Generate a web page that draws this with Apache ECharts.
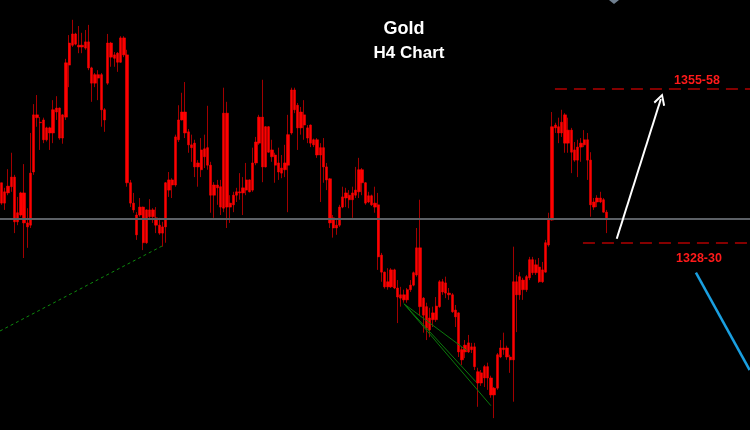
<!DOCTYPE html>
<html>
<head>
<meta charset="utf-8">
<script src="https://cdn.jsdelivr.net/npm/echarts@6/dist/echarts.min.js"></script>
<style>
  html, body { margin: 0; background: #000; }
  #chart { width: 750px; height: 430px; }
</style>
</head>
<body>
<div id="chart"></div>
<script>
// H4 gold bars as [open, close, low, high]
const candles = [
  [1339.7, 1336.1, 1335.8, 1339.7], [1336.1, 1338.1, 1334.9, 1338.8], [1337.9, 1339.1, 1337.5, 1342.1],
  [1339.0, 1340.7, 1338.1, 1345.0], [1340.7, 1332.8, 1330.8, 1341.1], [1332.8, 1334.4, 1332.2, 1337.2],
  [1334.0, 1337.9, 1333.7, 1338.1], [1337.9, 1332.6, 1326.4, 1343.0], [1332.6, 1331.9, 1328.2, 1335.2],
  [1332.2, 1341.4, 1331.7, 1348.5], [1341.6, 1351.7, 1341.1, 1353.6], [1351.7, 1351.2, 1349.6, 1355.2],
  [1350.4, 1350.3, 1345.5, 1351.3], [1350.8, 1347.3, 1346.7, 1351.2], [1347.3, 1349.4, 1347.0, 1349.6],
  [1349.4, 1348.5, 1345.5, 1349.6], [1348.5, 1352.6, 1346.7, 1354.3], [1352.2, 1352.9, 1350.8, 1355.0],
  [1352.9, 1347.6, 1347.3, 1353.0], [1347.6, 1351.7, 1346.6, 1351.8], [1351.3, 1360.9, 1350.8, 1361.6],
  [1360.5, 1364.4, 1356.6, 1365.8], [1364.0, 1366.0, 1363.7, 1368.5], [1366.0, 1364.2, 1364.0, 1366.2],
  [1364.0, 1363.7, 1362.6, 1367.4], [1363.7, 1364.0, 1362.6, 1366.2], [1363.5, 1364.6, 1363.2, 1366.7],
  [1364.6, 1360.0, 1359.6, 1367.6], [1360.0, 1357.3, 1354.0, 1360.2], [1357.3, 1358.8, 1356.6, 1359.1],
  [1358.8, 1358.2, 1354.3, 1359.6], [1358.8, 1352.6, 1349.6, 1359.1], [1352.6, 1350.8, 1348.7, 1352.9],
  [1357.3, 1364.4, 1357.0, 1366.0], [1364.4, 1361.9, 1360.2, 1364.6], [1362.3, 1361.7, 1360.2, 1362.8],
  [1362.6, 1361.0, 1359.3, 1362.8], [1361.0, 1365.3, 1360.9, 1365.6], [1365.3, 1362.3, 1361.9, 1365.6],
  [1362.3, 1339.7, 1339.0, 1363.2], [1339.7, 1336.1, 1335.4, 1340.2], [1336.1, 1334.9, 1334.4, 1337.9],
  [1334.0, 1330.5, 1329.6, 1334.5], [1334.0, 1335.4, 1333.7, 1337.0], [1335.4, 1329.1, 1327.8, 1335.5],
  [1329.1, 1334.9, 1328.9, 1335.0], [1334.9, 1333.7, 1333.1, 1336.8], [1333.7, 1334.9, 1332.6, 1335.2],
  [1333.5, 1332.2, 1330.8, 1335.4], [1332.2, 1330.8, 1330.5, 1333.5], [1330.8, 1331.9, 1328.4, 1332.8],
  [1331.9, 1339.7, 1329.1, 1339.8], [1338.4, 1340.2, 1337.2, 1341.6], [1340.2, 1339.3, 1337.0, 1340.5],
  [1339.3, 1347.8, 1339.0, 1348.2], [1347.3, 1350.8, 1346.9, 1353.4], [1350.8, 1352.2, 1350.7, 1355.6],
  [1352.2, 1348.5, 1347.6, 1357.5], [1348.7, 1346.4, 1345.0, 1349.2], [1346.4, 1345.9, 1343.4, 1348.2],
  [1346.7, 1342.5, 1340.7, 1347.3], [1342.5, 1343.2, 1339.0, 1343.7], [1342.0, 1345.5, 1340.7, 1347.6],
  [1345.7, 1344.3, 1342.3, 1348.2], [1345.9, 1342.8, 1342.0, 1353.3], [1342.8, 1337.5, 1334.4, 1343.4],
  [1337.5, 1339.3, 1333.5, 1339.8], [1339.3, 1338.8, 1335.8, 1340.2], [1339.0, 1335.4, 1334.0, 1340.2],
  [1335.2, 1352.0, 1334.5, 1356.5], [1352.0, 1335.4, 1331.7, 1354.0], [1335.4, 1336.1, 1332.6, 1337.5],
  [1335.8, 1337.5, 1334.5, 1338.1], [1337.5, 1338.1, 1336.3, 1338.8], [1338.1, 1337.9, 1336.7, 1341.4],
  [1337.9, 1338.8, 1334.0, 1340.7], [1338.4, 1340.2, 1337.5, 1343.2], [1340.2, 1338.1, 1338.0, 1340.3],
  [1338.4, 1343.2, 1338.1, 1345.9], [1343.2, 1346.9, 1342.8, 1347.8], [1346.7, 1351.3, 1346.4, 1351.7],
  [1351.3, 1342.5, 1339.8, 1357.9], [1342.5, 1349.6, 1342.4, 1349.7], [1349.6, 1345.1, 1345.0, 1349.7],
  [1345.5, 1344.3, 1343.4, 1347.3], [1344.6, 1342.8, 1339.7, 1345.0], [1343.2, 1341.6, 1340.2, 1345.9],
  [1341.4, 1342.3, 1340.5, 1344.6], [1342.0, 1343.2, 1340.7, 1346.4], [1342.8, 1348.2, 1334.5, 1351.7],
  [1348.5, 1356.1, 1348.2, 1356.5], [1356.1, 1352.6, 1352.0, 1356.5], [1353.4, 1349.4, 1345.5, 1353.8],
  [1349.4, 1352.2, 1348.2, 1353.1], [1351.7, 1349.9, 1347.3, 1354.3], [1349.4, 1347.6, 1346.7, 1349.9],
  [1349.9, 1346.7, 1346.0, 1350.0], [1347.3, 1346.4, 1346.0, 1347.5], [1347.3, 1344.6, 1344.1, 1347.6],
  [1344.6, 1345.9, 1336.3, 1346.7], [1345.9, 1342.5, 1339.7, 1347.6], [1342.5, 1340.2, 1338.4, 1343.2],
  [1340.4, 1332.6, 1331.7, 1340.5], [1333.5, 1331.7, 1330.0, 1334.0], [1331.7, 1332.2, 1330.5, 1333.1],
  [1332.2, 1335.4, 1331.9, 1335.8], [1335.4, 1337.2, 1335.2, 1339.0], [1337.0, 1337.9, 1335.4, 1338.8],
  [1337.5, 1336.7, 1335.2, 1338.4], [1336.7, 1337.9, 1333.5, 1339.0], [1337.5, 1338.4, 1337.0, 1342.5],
  [1338.1, 1342.0, 1337.0, 1344.1], [1342.0, 1339.7, 1337.5, 1342.3], [1339.7, 1336.1, 1335.8, 1339.8],
  [1336.3, 1337.4, 1336.1, 1338.1], [1337.4, 1335.8, 1335.6, 1337.6], [1335.4, 1336.1, 1334.4, 1339.0],
  [1335.8, 1326.6, 1324.3, 1337.9], [1326.9, 1323.9, 1322.2, 1327.3], [1323.9, 1321.3, 1321.0, 1324.0],
  [1321.3, 1322.2, 1320.8, 1324.6], [1321.3, 1324.3, 1321.1, 1324.6], [1324.3, 1321.1, 1320.9, 1324.5],
  [1321.1, 1319.5, 1314.9, 1322.5], [1319.3, 1319.9, 1317.8, 1321.3], [1319.9, 1319.0, 1318.5, 1320.8],
  [1319.0, 1320.8, 1318.5, 1321.1], [1320.8, 1321.6, 1320.4, 1322.5], [1321.6, 1323.8, 1321.4, 1324.0],
  [1323.4, 1328.2, 1323.1, 1331.7], [1328.2, 1317.8, 1316.3, 1336.7], [1319.3, 1316.3, 1313.2, 1319.5],
  [1317.8, 1314.0, 1311.9, 1318.5], [1313.7, 1315.8, 1312.4, 1317.6], [1315.5, 1316.7, 1314.2, 1317.8],
  [1315.5, 1317.9, 1315.1, 1319.5], [1317.8, 1322.2, 1317.6, 1322.5], [1322.2, 1320.4, 1319.9, 1322.7],
  [1320.2, 1322.0, 1319.3, 1323.1], [1320.2, 1319.9, 1319.0, 1321.1], [1319.9, 1316.9, 1316.7, 1320.2],
  [1317.2, 1316.0, 1314.2, 1318.1], [1316.7, 1309.8, 1308.9, 1316.8], [1310.2, 1308.4, 1307.5, 1310.7],
  [1309.8, 1311.0, 1308.7, 1311.9], [1309.8, 1311.4, 1309.6, 1312.8], [1310.7, 1310.2, 1309.6, 1311.4],
  [1310.7, 1307.2, 1306.6, 1311.4], [1306.3, 1304.3, 1300.1, 1307.0], [1304.3, 1306.1, 1303.8, 1306.6],
  [1305.2, 1307.2, 1303.6, 1307.5], [1307.2, 1305.2, 1303.1, 1307.9], [1305.2, 1302.2, 1301.7, 1305.6],
  [1302.2, 1303.4, 1298.1, 1303.6], [1303.4, 1309.3, 1303.1, 1309.6], [1308.9, 1310.5, 1308.7, 1311.9],
  [1310.5, 1310.2, 1309.3, 1313.2], [1310.5, 1308.9, 1308.4, 1310.9], [1308.9, 1308.4, 1306.1, 1309.3],
  [1308.4, 1322.2, 1301.0, 1328.4], [1322.2, 1319.9, 1313.3, 1323.4], [1319.9, 1323.1, 1319.0, 1323.9],
  [1322.5, 1320.8, 1319.0, 1322.9], [1320.8, 1323.1, 1320.4, 1323.4], [1322.9, 1326.1, 1322.5, 1326.6],
  [1326.1, 1323.8, 1323.4, 1326.6], [1323.8, 1325.2, 1323.4, 1326.1], [1324.8, 1322.2, 1322.0, 1326.4],
  [1322.2, 1324.3, 1322.0, 1325.7], [1323.9, 1329.1, 1323.8, 1329.6], [1328.7, 1333.1, 1328.4, 1334.4],
  [1333.1, 1349.6, 1333.0, 1352.2], [1349.4, 1349.9, 1348.5, 1350.3], [1349.6, 1348.5, 1346.7, 1351.2],
  [1348.5, 1350.4, 1347.8, 1352.6], [1351.7, 1346.7, 1345.0, 1352.0], [1346.7, 1349.0, 1345.0, 1351.2],
  [1349.0, 1345.1, 1341.4, 1349.4], [1345.5, 1343.7, 1343.4, 1346.9], [1343.7, 1346.0, 1340.7, 1347.3],
  [1346.0, 1346.7, 1343.4, 1347.6], [1346.4, 1347.3, 1346.0, 1349.0], [1347.3, 1343.7, 1340.2, 1348.5],
  [1343.7, 1335.8, 1333.7, 1345.1], [1335.4, 1336.3, 1334.9, 1337.0], [1336.3, 1337.0, 1335.4, 1337.5],
  [1337.0, 1336.3, 1336.1, 1338.1], [1336.7, 1334.5, 1334.4, 1337.0], [1334.5, 1333.5, 1330.8, 1334.9]
];

// chart shows room for this many bars, the right part is empty
const totalSlots = 233;
const bidPrice = 1333.3;
const upperTarget = 1356.3;
const lowerTarget = 1329.1;
const upperLabel = '1355-58';
const lowerLabel = '1328-30';

// drawings in [bar index, price]
const targetStarts = [171.9, 180.6];
const upArrow = [[191.1, 1329.8], [204.8, 1354.5]];
const downLine = [[215.7, 1323.8], [232.4, 1306.6]];
const supportLine = [[-0.5, 1313.5], [49.8, 1328.5]];
const fanOrigin = [125.0, 1318.3];
const fanEnds = [[144.6, 1310.0], [147.4, 1304.5], [152.0, 1300.3]];

const categories = Array.from({ length: totalSlots }, (_, i) => String(i + 1));
const bodies = candles.map(([o, c]) => [o, c, Math.min(o, c), Math.max(o, c)]);
const lastIdx = totalSlots - 0.5;

const chart = echarts.init(document.getElementById('chart'));

const seg = (a, b, style, symbol) => [
  { coord: a, symbol: symbol ? symbol[0] : 'none', lineStyle: style },
  { coord: b, symbol: symbol ? symbol[1] : 'none', symbolSize: 12 }
];

const chevron = 'path://M5,0 L10,9 L8.6,10 L5,3.2 L1.4,10 L0,9 Z';

const option = {
  backgroundColor: '#000',
  animation: false,
  grid: { left: 0, right: 0, top: 0, bottom: 0 },
  xAxis: [
    { type: 'category', data: categories, show: false },
    { type: 'value', min: -0.5, max: lastIdx, show: false }
  ],
  yAxis: { type: 'value', min: 1296, max: 1372, show: false },
  graphic: [
    { type: 'text', x: 404, y: 29, style: { text: 'Gold', fill: '#fff', font: 'bold 18px "Liberation Sans"', align: 'center', verticalAlign: 'middle' } },
    { type: 'text', x: 409, y: 53, style: { text: 'H4 Chart', fill: '#fff', font: 'bold 17px "Liberation Sans"', align: 'center', verticalAlign: 'middle' } },
    { type: 'text', x: 697, y: 81, style: { text: upperLabel, fill: '#ff1a1a', font: 'bold 12.5px "Liberation Sans"', align: 'center', verticalAlign: 'middle' } },
    { type: 'text', x: 699, y: 259, style: { text: lowerLabel, fill: '#ff1a1a', font: 'bold 12.5px "Liberation Sans"', align: 'center', verticalAlign: 'middle' } },
    { type: 'polygon', shape: { points: [[609, 0], [619, 0], [614, 4]] }, style: { fill: '#6f7f8f' } }
  ],
  series: [
    {
      // wicks
      type: 'candlestick',
      data: candles,
      barWidth: 1,
      itemStyle: { color: '#a30000', color0: '#a30000', borderColor: '#a30000', borderColor0: '#a30000', borderWidth: 1 }
    },
    {
      // bodies
      type: 'candlestick',
      data: bodies,
      barWidth: 2.8,
      itemStyle: { color: '#ff0000', color0: '#ff0000', borderColor: '#ff0000', borderColor0: '#ff0000', borderWidth: 0.5 }
    },
    {
      type: 'line',
      xAxisIndex: 1,
      data: supportLine,
      symbol: 'none',
      silent: true,
      lineStyle: { color: '#0d8a0d', width: 1, type: [3, 3] },
      markLine: {
        silent: true,
        label: { show: false },
        animation: false,
        data: [
          [{ yAxis: bidPrice, x: 0, symbol: 'none' }, { yAxis: bidPrice, x: 750, symbol: 'none' }],
          ...fanEnds.map((e) => seg(fanOrigin, e, { color: '#0b7a0b', width: 1, type: 'solid' })),
          seg([targetStarts[0], upperTarget], [lastIdx, upperTarget], { color: '#b00000', width: 1.5, type: [12, 7] }),
          seg([targetStarts[1], lowerTarget], [lastIdx, lowerTarget], { color: '#b00000', width: 1.5, type: [12, 7] }),
          seg(upArrow[0], upArrow[1], { color: '#ffffff', width: 2, type: 'solid' }, ['none', chevron]),
          seg(downLine[0], downLine[1], { color: '#1a9fe0', width: 2.5, type: 'solid' })
        ],
        lineStyle: { color: '#5c6066', width: 2, type: 'solid' }
      }
    }
  ]
};

chart.setOption(option);
</script>
</body>
</html>
